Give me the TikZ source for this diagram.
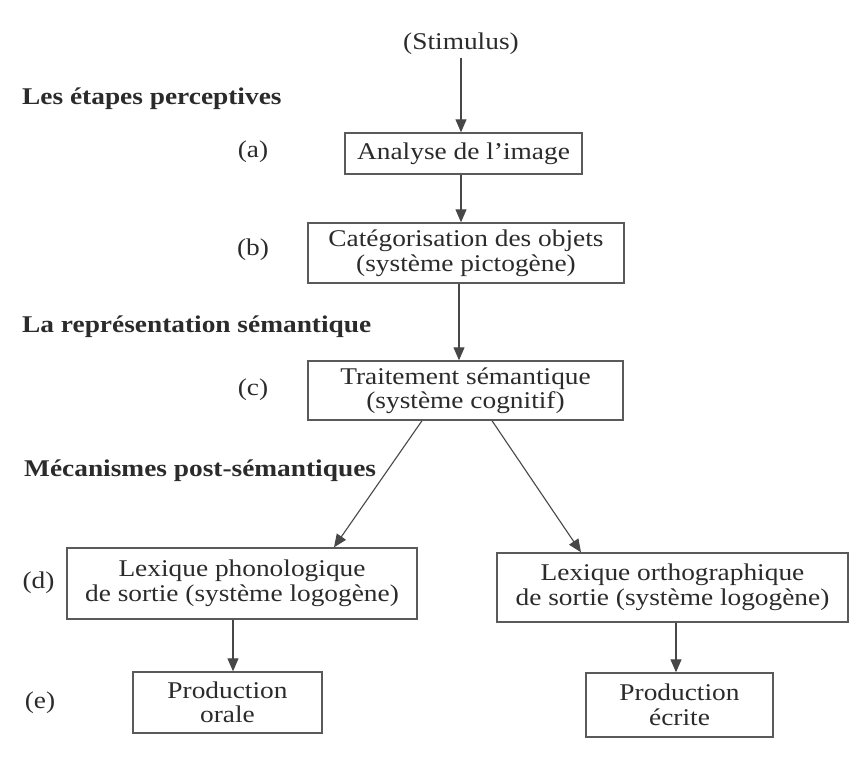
\documentclass[tikz,border=0pt]{standalone}
\usepackage{fontspec}
\setmainfont{Liberation Serif}[FakeStretch=1.14]
\usetikzlibrary{arrows.meta}
\definecolor{ink}{HTML}{2B2B2B}
\definecolor{frame}{HTML}{5A5A5A}
\definecolor{wire}{HTML}{474747}
\begin{document}
\begin{tikzpicture}[x=1pt,y=-1pt,
  every node/.style={text=ink, font=\fontsize{24}{24.5}\selectfont, inner sep=0pt},
  stage/.style={draw=frame, line width=1.4pt, align=center},
  heading/.style={anchor=base west, font=\fontsize{24}{24.5}\selectfont\bfseries},
  arr/.style={draw=wire, line width=1.1pt, -{Triangle[length=13pt,width=11pt]}}]

% page
\fill[white] (0,0) rectangle (866,770);
\useasboundingbox (0,0) rectangle (866,770);

% section headings
\node[heading] (h1) at (22,105) {Les étapes perceptives};
\node[heading] (h2) at (22,332) {La représentation sémantique};
\node[heading] (h3) at (24,476) {Mécanismes post-sémantiques};

% stage letters
\node (la) at (253,152) {(a)};
\node (lb) at (253,250) {(b)};
\node (lc) at (253,390) {(c)};
\node (ld) at (38.5,583) {(d)};
\node (le) at (40,703) {(e)};

% processing stages
\node[inner sep=3pt] (stim) at (461,44) {(Stimulus)};
\node[stage, minimum width=237pt, minimum height=41pt] (a) at (463.5,153.5) {Analyse de l'image};
\node[stage, minimum width=316pt, minimum height=60pt] (b) at (466,253) {Catégorisation des objets\\(système pictogène)};
\node[stage, minimum width=315pt, minimum height=59pt] (c) at (465.5,390.5) {Traitement sémantique\\(système cognitif)};
\node[stage, minimum width=350pt, minimum height=71pt] (dl) at (242,583.5) {Lexique phonologique\\de sortie (système logogène)};
\node[stage, minimum width=351pt, minimum height=69pt] (dr) at (672.5,587.5) {Lexique orthographique\\de sortie (système logogène)};
\node[stage, minimum width=189pt, minimum height=61pt] (el) at (227.5,702.5) {Production\\orale};
\node[stage, minimum width=187pt, minimum height=64pt] (er) at (679.5,705) {Production\\écrite};

% vertical lines the arrows run along
\coordinate (spine) at (459,0);
\coordinate (leftdrop) at (233,0);
\coordinate (rightdrop) at (676,0);

% connectors
\draw[arr] (stim.south) -- (stim.south |- a.north);
\draw[arr] (a.south -| stim) -- (b.north -| stim);
\draw[arr] (b.south -| spine) -- (c.north -| spine);
\draw[arr] ([xshift=-43.5pt]c.south) -- ([xshift=92pt]dl.north);
\draw[arr] ([xshift=26.5pt]c.south) -- ([xshift=-91.5pt]dr.north);
\draw[arr] (dl.south -| leftdrop) -- (el.north -| leftdrop);
\draw[arr] (dr.south -| rightdrop) -- (er.north -| rightdrop);
\end{tikzpicture}
\end{document}
